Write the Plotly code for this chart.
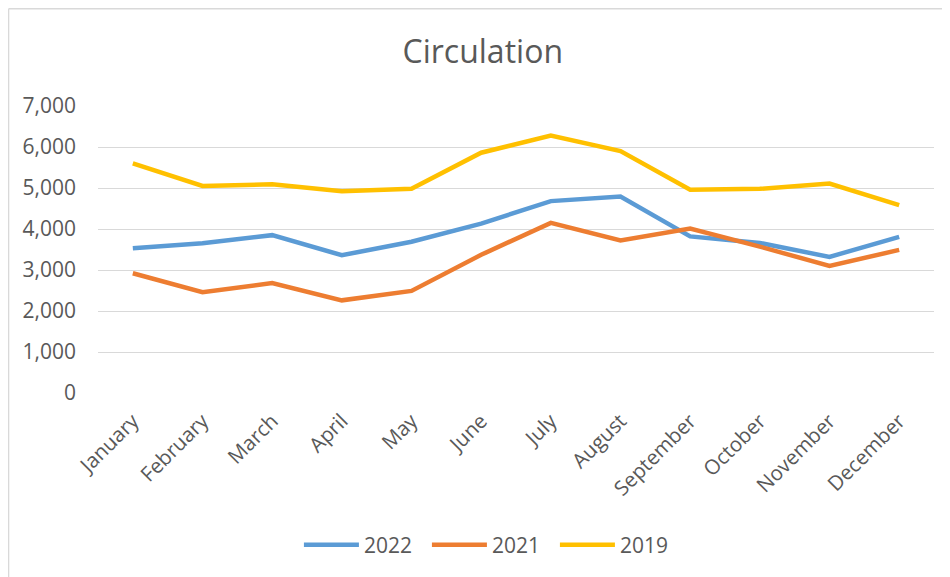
import plotly.graph_objects as go

months = ["January", "February", "March", "April", "May", "June",
          "July", "August", "September", "October", "November", "December"]
s2022 = [3530, 3650, 3850, 3360, 3690, 4130, 4680, 4790, 3820, 3660, 3320, 3810]
s2021 = [2920, 2460, 2680, 2260, 2490, 3370, 4150, 3720, 4010, 3570, 3100, 3490]
s2019 = [5600, 5050, 5090, 4920, 4980, 5860, 6280, 5900, 4960, 4980, 5110, 4580]
series_names = ["2022", "2021", "2019"]
colors = ["#5B9BD5", "#ED7D31", "#FFC000"]
yticks = [0, 1000, 2000, 3000, 4000, 5000, 6000, 7000]

FONT = "Open Sans"
TXT = "#595959"

fig = go.Figure()
for name, vals, c in zip(series_names, [s2022, s2021, s2019], colors):
    fig.add_trace(go.Scatter(x=months, y=vals, name=name, mode="lines",
                             line=dict(color=c, width=4.5)))

fig.update_layout(
    width=942, height=569,
    margin=dict(l=90, r=16, t=98, b=184),
    paper_bgcolor="white", plot_bgcolor="white",
    font=dict(family=FONT, color=TXT, size=21),
    title=dict(text="Circulation", x=0.504, xref="container", xanchor="center",
               y=0.9227, yref="container", yanchor="middle",
               font=dict(family=FONT, size=32, color=TXT)),
    legend=dict(orientation="h", x=0.470, xanchor="center", y=-0.53, yanchor="middle",
                font=dict(family=FONT, size=21, color=TXT), itemwidth=55,
                entrywidth=58, tracegroupgap=0),
    showlegend=True,
)
fig.update_xaxes(showgrid=False, showline=False, zeroline=False, tickangle=-45,
                 tickfont=dict(family=FONT, size=20.5, color=TXT), ticks="",
                 range=[-0.5, 11.5], ticklabelstandoff=11)
fig.update_yaxes(range=[0, 7000], tickvals=yticks, tickformat=",", showgrid=True,
                 gridcolor="#D9D9D9", gridwidth=1.3, zeroline=False, showline=False,
                 tickfont=dict(family=FONT, size=21, color=TXT), ticks="",
                 ticklabelstandoff=21)
# chart frame (left and top edges visible)
fig.add_shape(type="line", xref="paper", yref="paper", x0=-0.107, x1=1.1, y0=1.339, y1=1.339,
              line=dict(color="#D9D9D9", width=1.5))
fig.add_shape(type="line", xref="paper", yref="paper", x0=-0.107, x1=-0.107, y0=1.339, y1=-0.7,
              line=dict(color="#D9D9D9", width=1.5))

fig.write_html("out.html")
